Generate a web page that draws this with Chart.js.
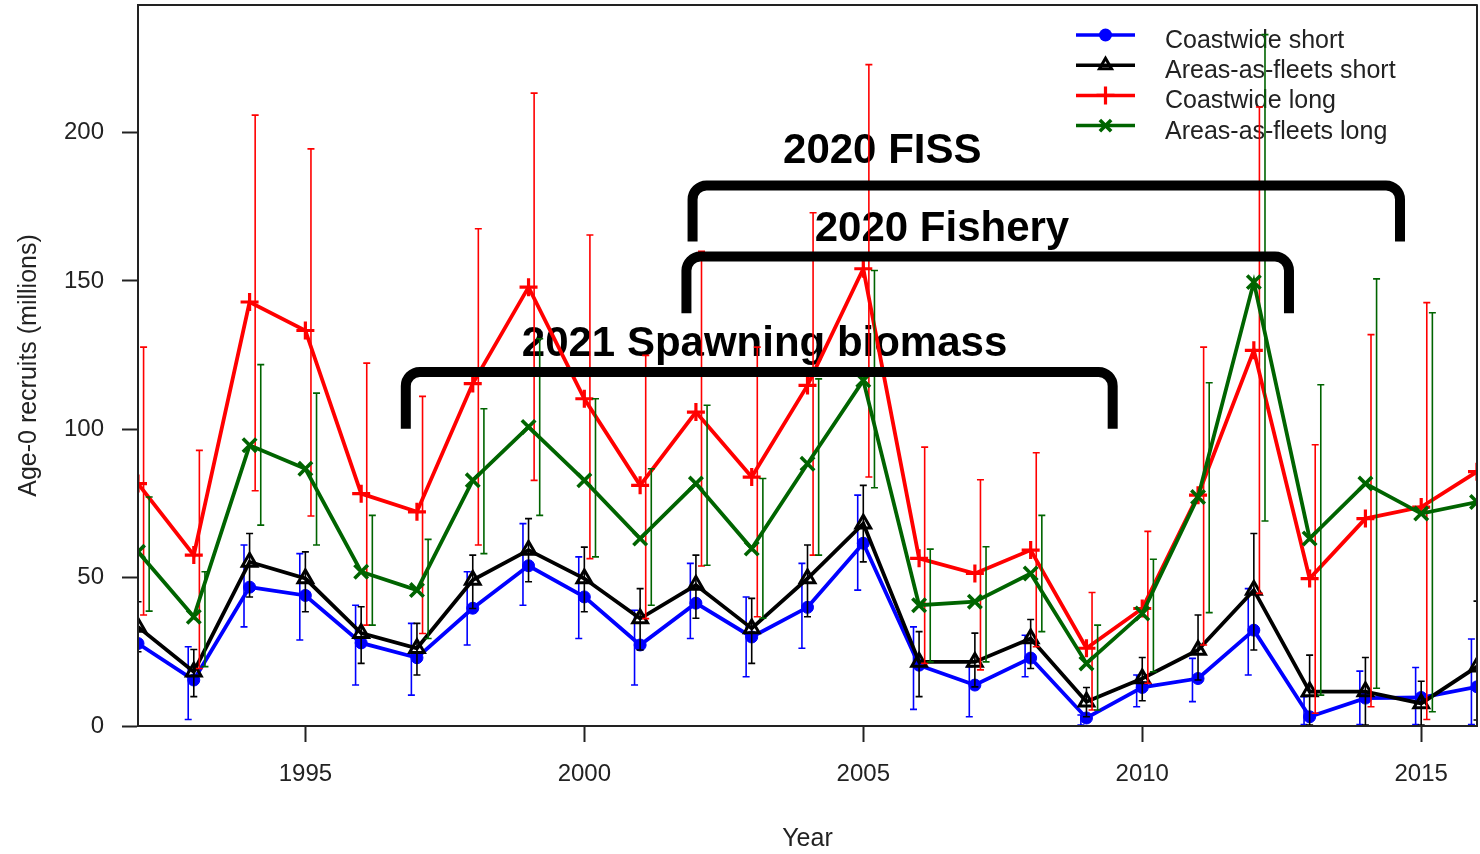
<!DOCTYPE html>
<html><head><meta charset="utf-8">
<script src="https://cdn.jsdelivr.net/npm/chart.js@4.4.1/dist/chart.umd.min.js"></script>
<style>html,body{margin:0;padding:0;background:#fff;}#wrap{width:1480px;height:854px;position:relative;}</style>
</head><body><div id="wrap"><canvas id="c"></canvas></div>
<script>
// ---------- data ----------
const years = [1992,1993,1994,1995,1996,1997,1998,1999,2000,2001,2002,2003,2004,2005,2006,2007,2008,2009,2010,2011,2012,2013,2014,2015,2016];

const coastShort   = [27.8,15.5,46.8,44.0,28.0,23.0,39.7,54.0,43.5,27.3,41.4,30.0,40.0,61.6,20.5,13.8,22.9,2.7,13.0,16.0,32.3,3.1,9.4,9.6,13.2];
const coastShortLo = [15.0,2.2,33.4,29.0,13.8,10.4,27.3,40.7,29.5,13.8,29.5,16.6,26.2,45.8,5.6,3.1,16.6,0.3,6.5,8.2,17.2,0.5,0.5,0.5,0.5];
const coastShortHi = [40.0,26.7,61.0,58.1,40.7,34.6,52.0,68.2,57.0,39.0,54.8,43.5,54.8,77.8,33.4,20.0,30.6,3.7,17.2,22.8,46.3,9.9,18.5,19.7,29.3];

const aafShort   = [33.4,18.3,55.3,49.7,31.3,26.2,49.2,59.3,49.7,36.2,47.5,32.9,49.7,68.2,21.6,21.6,29.5,8.2,16.0,25.6,45.8,11.6,11.6,7.6,20.0];
const aafShortLo = [25.0,9.9,43.5,38.5,21.1,17.2,39.6,48.6,38.5,25.6,36.3,21.1,36.8,55.3,9.9,13.2,19.4,3.1,8.5,15.5,25.6,0.3,0.3,0.3,2.0];
const aafShortHi = [41.9,25.8,64.9,58.7,40.2,34.6,57.6,69.9,60.3,46.3,57.6,43.0,61.0,81.1,31.8,31.3,35.9,13.0,23.1,37.4,64.9,23.9,23.1,15.1,42.1];

const coastLong   = [81.7,57.6,142.9,133.3,78.3,72.2,115.4,147.9,110.3,81.1,105.8,83.9,114.8,154.1,56.5,51.4,59.3,26.2,39.6,77.8,126.6,49.7,69.9,73.8,85.7];
const coastLongLo = [37.4,19.4,79.3,70.8,34.0,31.2,61.0,82.8,56.4,36.2,53.9,36.8,57.6,83.9,21.1,18.9,26.7,5.4,14.4,27.3,44.7,4.3,6.5,2.2,40.0];
const coastLongHi = [127.7,92.9,205.9,194.5,122.3,111.1,167.6,213.3,165.5,124.9,160.0,127.7,173.0,222.9,94.0,83.0,92.1,45.0,65.6,127.7,208.6,94.8,131.9,142.7,140.0];

const aafLong   = [58.7,36.8,94.6,86.7,52.0,45.8,82.8,100.8,82.8,63.2,81.7,59.8,88.4,116.5,40.7,41.9,51.4,21.1,37.9,77.2,149.6,63.2,81.7,71.6,75.5];
const aafLongLo = [38.7,20.0,67.7,61.0,34.0,29.5,58.1,71.0,57.0,40.7,54.2,36.3,57.6,80.3,21.6,21.6,31.8,5.4,18.3,38.2,69.1,10.4,12.7,4.8,40.0];
const aafLongHi = [77.2,52.0,121.8,112.2,71.0,62.9,106.9,130.5,110.3,86.7,108.1,83.4,117.0,153.5,59.6,60.4,71.0,34.0,56.2,115.7,233.0,115.0,150.7,139.3,120.0];

const seriesLabels = ['Coastwide short','Areas-as-fleets short','Coastwide long','Areas-as-fleets long'];
const xTickValues = [1995,2000,2005,2010,2015];
const yTickValues = [0,50,100,150,200];
const xTitle = 'Year';
const yTitle = 'Age-0 recruits (millions)';
const bracketLabels = ['2020 FISS','2020 Fishery','2021 Spawning biomass'];

// ---------- styles / layout ----------
const FONT = "'Liberation Sans', Arial, sans-serif";
const TXT = '#222';
const seriesValues = [coastShort, aafShort, coastLong, aafLong];
const seriesLo = [coastShortLo, aafShortLo, coastLongLo, aafLongLo];
const seriesHi = [coastShortHi, aafShortHi, coastLongHi, aafLongHi];
const seriesStyle = [
  {color:'#0000ff', point:'circle',   r:6,   fill:true,  pbw:1,   off:-0.1, lr:6.5},
  {color:'#000000', point:'triangle', r:8.5, fill:false, pbw:3,   off:0.0,  lr:7},
  {color:'#ff0000', point:'cross',    r:9,   fill:false, pbw:3.2, off:0.1,  lr:9},
  {color:'#006400', point:'crossRot', r:9.5, fill:false, pbw:3.6, off:0.2,  lr:8}
];
const bracketGeom = [
  {from:2001.94, to:2014.62, top:182.2, foot:163.3, tx:2005.34, ty:189.9},
  {from:2001.83, to:2012.63, top:158.2, foot:139.1, tx:2006.41, ty:163.5},
  {from:1996.80, to:2009.47, top:119.3, foot:100.2, tx:2003.23, ty:124.6}
];

function drawMarker(ctx, st, x, y, r) {
  ctx.save();
  ctx.strokeStyle = st.color; ctx.fillStyle = st.color;
  ctx.lineWidth = st.pbw;
  ctx.beginPath();
  if (st.point === 'circle') {
    ctx.arc(x, y, r, 0, Math.PI*2); ctx.fill();
  } else if (st.point === 'triangle') {
    for (let k=0;k<3;k++){ const a = k*2*Math.PI/3; const px = x + Math.sin(a)*r, py = y - Math.cos(a)*r; if(k===0) ctx.moveTo(px,py); else ctx.lineTo(px,py);}
    ctx.closePath(); ctx.stroke();
  } else if (st.point === 'cross') {
    ctx.moveTo(x-r,y); ctx.lineTo(x+r,y); ctx.moveTo(x,y-r); ctx.lineTo(x,y+r); ctx.stroke();
  } else {
    const d = r*Math.SQRT1_2;
    ctx.moveTo(x-d,y-d); ctx.lineTo(x+d,y+d); ctx.moveTo(x-d,y+d); ctx.lineTo(x+d,y-d); ctx.stroke();
  }
  ctx.restore();
}

const decorPlugin = {
  id: 'decor',
  beforeDatasetsDraw(chart) {
    const {ctx, chartArea: ca, scales: {x, y}} = chart;
    ctx.save();
    ctx.fillStyle = '#000';
    ctx.font = "bold 42px " + FONT;
    ctx.textAlign = 'center'; ctx.textBaseline = 'alphabetic';
    bracketGeom.forEach((b, i) => {
      ctx.fillText(bracketLabels[i], x.getPixelForValue(b.tx), y.getPixelForValue(b.ty));
    });
    const lx0 = ca.right - 401, lx1 = ca.right - 342, tx = ca.right - 312;
    ctx.font = "25px " + FONT;
    ctx.textAlign = 'left';
    seriesLabels.forEach((lab, i) => {
      const st = seriesStyle[i];
      const ly = 35 + i*30.2;
      ctx.strokeStyle = st.color; ctx.lineWidth = 3.5;
      ctx.beginPath(); ctx.moveTo(lx0, ly); ctx.lineTo(lx1, ly); ctx.stroke();
      drawMarker(ctx, st, (lx0+lx1)/2, ly, st.lr);
      ctx.fillStyle = TXT;
      ctx.fillText(lab, tx, ly + 13);
    });
    ctx.restore();
  },
  afterDatasetDraw(chart, args) {
    const ds = chart.data.datasets[args.index];
    const {ctx, chartArea: ca, scales: {x, y}} = chart;
    const st = seriesStyle[ds.sIndex];
    ctx.save();
    ctx.beginPath(); ctx.rect(ca.left, ca.top, ca.right-ca.left, ca.bottom-ca.top); ctx.clip();
    ctx.strokeStyle = st.color; ctx.lineWidth = 1.6;
    const cap = 3.5;
    years.forEach((yr, i) => {
      const px = x.getPixelForValue(yr + st.off);
      const p1 = y.getPixelForValue(seriesLo[ds.sIndex][i]);
      const p2 = y.getPixelForValue(seriesHi[ds.sIndex][i]);
      ctx.beginPath();
      ctx.moveTo(px, p1); ctx.lineTo(px, p2);
      ctx.moveTo(px-cap, p1); ctx.lineTo(px+cap, p1);
      ctx.moveTo(px-cap, p2); ctx.lineTo(px+cap, p2);
      ctx.stroke();
    });
    ctx.restore();
  },
  afterDatasetsDraw(chart) {
    const {ctx, chartArea: ca, scales: {x, y}} = chart;
    ctx.save();
    ctx.strokeStyle = '#000'; ctx.lineWidth = 10; ctx.lineCap = 'butt'; ctx.lineJoin = 'round';
    bracketGeom.forEach(b => {
      const x0 = x.getPixelForValue(b.from), x1 = x.getPixelForValue(b.to);
      const yt = y.getPixelForValue(b.top), yb = y.getPixelForValue(b.foot);
      const r = 14;
      ctx.beginPath();
      ctx.moveTo(x0, yb);
      ctx.lineTo(x0, yt + r);
      ctx.arcTo(x0, yt, x0 + r, yt, r);
      ctx.lineTo(x1 - r, yt);
      ctx.arcTo(x1, yt, x1, yt + r, r);
      ctx.lineTo(x1, yb);
      ctx.stroke();
    });
    ctx.strokeStyle = TXT; ctx.lineWidth = 2;
    ctx.strokeRect(ca.left, ca.top, ca.right-ca.left, ca.bottom-ca.top);
    ctx.restore();
  }
};

const datasets = seriesValues.map((vals, s) => {
  const st = seriesStyle[s];
  return {
    label: seriesLabels[s],
    sIndex: s,
    data: years.map((yr, i) => ({x: yr, y: vals[i]})),
    borderColor: st.color,
    borderWidth: 3.8,
    tension: 0,
    fill: false,
    pointStyle: st.point,
    pointRadius: st.r,
    pointHoverRadius: st.r,
    pointBorderColor: st.color,
    pointBackgroundColor: st.fill ? st.color : 'rgba(0,0,0,0)',
    pointBorderWidth: st.pbw,
    clip: 0,
    order: 4 - s
  };
});

function zeroPad(sc) { sc.paddingTop = 0; sc.paddingBottom = 0; sc.paddingLeft = 0; sc.paddingRight = 0; }

new Chart(document.getElementById('c'), {
  type: 'line',
  data: { datasets },
  plugins: [decorPlugin],
  options: {
    responsive: true,
    maintainAspectRatio: false,
    animation: false,
    events: [],
    layout: { autoPadding: false, padding: { top: 5, right: 3, left: 0, bottom: 0 } },
    plugins: { legend: { display: false }, tooltip: { enabled: false } },
    scales: {
      x: {
        type: 'linear', min: 1992, max: 2016,
        afterBuildTicks: sc => { sc.ticks = xTickValues.map(v => ({value: v})); },
        afterFit: sc => { sc.height = 128; zeroPad(sc); },
        ticks: { callback: v => String(v), font: { size: 24, family: FONT }, color: TXT, padding: 18, maxRotation: 0, autoSkip: false },
        grid: { drawOnChartArea: false, drawTicks: true, tickLength: 16, tickWidth: 2, tickColor: TXT },
        border: { display: true, color: TXT, width: 2 },
        title: { display: true, text: xTitle, font: { size: 25, family: FONT }, color: TXT, padding: { top: 0, bottom: 0 } }
      },
      y: {
        type: 'linear', min: 0, max: 243,
        afterBuildTicks: sc => { sc.ticks = yTickValues.map(v => ({value: v})); },
        afterFit: sc => { sc.width = 138; zeroPad(sc); },
        ticks: { callback: v => String(v), font: { size: 24, family: FONT }, color: TXT, padding: 18, autoSkip: false },
        grid: { drawOnChartArea: false, drawTicks: true, tickLength: 16, tickWidth: 2, tickColor: TXT },
        border: { display: true, color: TXT, width: 2 },
        title: { display: true, text: yTitle, font: { size: 25, family: FONT }, color: TXT, padding: { top: 14, bottom: 0 } }
      }
    }
  }
});
</script>
</body></html>
